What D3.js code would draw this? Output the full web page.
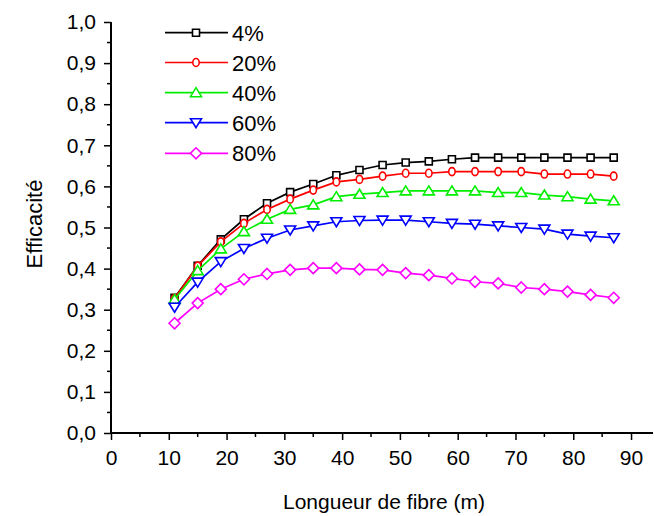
<!DOCTYPE html>
<html><head><meta charset="utf-8">
<script src="https://cdn.jsdelivr.net/npm/d3@7"></script>
<style>body{margin:0;background:#fff}svg{display:block}text{font-family:"Liberation Sans",Arial,sans-serif}</style>
</head><body>
<svg id="c" width="654" height="516"></svg>
<script>
const xValues = [11,15,19,23,27,31,35,39,43,47,51,55,59,63,67,71,75,79,83,87];
const seriesNames = ["4%","20%","40%","60%","80%"];
const s4  = [0.329,0.407,0.471,0.520,0.559,0.586,0.606,0.627,0.640,0.652,0.658,0.661,0.666,0.670,0.670,0.670,0.670,0.670,0.670,0.670];
const s20 = [0.327,0.406,0.465,0.510,0.544,0.569,0.591,0.611,0.617,0.625,0.632,0.632,0.636,0.636,0.636,0.636,0.630,0.630,0.630,0.625];
const s40 = [0.325,0.395,0.448,0.490,0.520,0.544,0.555,0.575,0.581,0.585,0.589,0.589,0.589,0.589,0.585,0.585,0.579,0.575,0.569,0.565];
const s60 = [0.306,0.367,0.417,0.449,0.474,0.494,0.504,0.514,0.517,0.518,0.518,0.514,0.510,0.508,0.504,0.500,0.496,0.484,0.479,0.475];
const s80 = [0.267,0.316,0.350,0.374,0.387,0.397,0.401,0.401,0.398,0.397,0.389,0.384,0.376,0.368,0.364,0.354,0.350,0.344,0.336,0.329];
const xTicks = [0,10,20,30,40,50,60,70,80,90];
const yTicks = [0,0.1,0.2,0.3,0.4,0.5,0.6,0.7,0.8,0.9,1.0];
const xTitle = "Longueur de fibre (m)";
const yTitle = "Efficacité";

const seriesValues = [s4,s20,s40,s60,s80];
const colors = ["#000000","#ff0000","#00ee00","#0000ff","#ff00ff"];
const shapes = ["square","circle","tri","tridown","diamond"];

const svg = d3.select("#c");
const x = d3.scaleLinear().domain([0,93.8]).range([111,653]);
const y = d3.scaleLinear().domain([0,1]).range([433,22]);

function markerPath(type){
  switch(type){
    case "square": return "M-3.5,-3.5H3.5V3.5H-3.5Z";
    case "circle": return "M0,-4A3.2,4 0 1,1 0,4A3.2,4 0 1,1 0,-4Z";
    case "tri": return "M0,-5L5.5,4H-5.5Z";
    case "tridown": return "M0,5L5.5,-4H-5.5Z";
    case "diamond": return "M0,-5.5L5.5,0L0,5.5L-5.5,0Z";
  }
}

// axes
const xAxis = d3.axisBottom(x).tickValues(xTicks).tickSize(7).tickPadding(10).tickFormat(d3.format("d"));
const yAxis = d3.axisLeft(y).tickValues(yTicks).tickSize(7).tickPadding(8).tickFormat(d=>d3.format(".1f")(d).replace(".",","));
const gx = svg.append("g").attr("transform","translate(0,433)").call(xAxis);
const gy = svg.append("g").attr("transform","translate(111,0)").call(yAxis);
[gx,gy].forEach(g=>{
  g.select(".domain").attr("stroke","#000").attr("stroke-width",2);
  g.selectAll(".tick line").attr("stroke","#000").attr("stroke-width",1.5);
  g.selectAll(".tick text").attr("fill","#000").style("font-size","21px");
});
gx.select(".domain").attr("d","M111,0H653");
gy.select(".domain").attr("d","M0,22V433");
// minor ticks
const xMinor = d3.range(5,94,10);
svg.append("g").selectAll("line").data(xMinor).join("line")
  .attr("x1",d=>x(d)).attr("x2",d=>x(d)).attr("y1",433).attr("y2",437)
  .attr("stroke","#000").attr("stroke-width",1.5);
const yMinor = d3.range(0.05,1,0.1);
svg.append("g").selectAll("line").data(yMinor).join("line")
  .attr("y1",d=>y(d)).attr("y2",d=>y(d)).attr("x1",111).attr("x2",107)
  .attr("stroke","#000").attr("stroke-width",1.5);

// titles
svg.append("text").attr("x",384).attr("y",509).attr("text-anchor","middle").style("font-size","21px").text(xTitle);
svg.append("text").attr("transform","translate(42,224) rotate(-90)").attr("text-anchor","middle").style("font-size","22px").text(yTitle);

// series
const line = d3.line().x((d,i)=>x(xValues[i])).y(d=>y(d));
seriesValues.forEach((vals,k)=>{
  const g = svg.append("g");
  g.append("path").attr("d",line(vals)).attr("fill","none").attr("stroke",colors[k]).attr("stroke-width",1.7);
  g.selectAll("path.m").data(vals).join("path").attr("class","m")
    .attr("transform",(d,i)=>`translate(${x(xValues[i])},${y(d)})`)
    .attr("d",markerPath(shapes[k])).attr("fill","#fff").attr("stroke",colors[k]).attr("stroke-width",1.6);
});

// legend
const legY = [32.7,62.5,92.7,122.7,153.3];
seriesNames.forEach((name,k)=>{
  const g = svg.append("g").attr("transform",`translate(0,${legY[k]})`);
  g.append("line").attr("x1",165).attr("x2",228).attr("y1",0).attr("y2",0).attr("stroke",colors[k]).attr("stroke-width",1.7);
  g.append("path").attr("transform","translate(196,0)").attr("d",markerPath(shapes[k])).attr("fill","#fff").attr("stroke",colors[k]).attr("stroke-width",1.6);
  g.append("text").attr("x",232).attr("y",8).style("font-size","22px").text(name);
});
</script>
</body></html>
